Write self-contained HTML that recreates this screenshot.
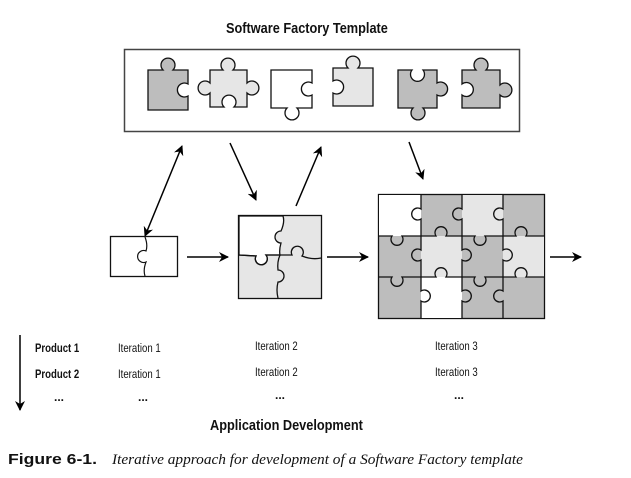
<!DOCTYPE html>
<html><head><style>
html,body{margin:0;padding:0;background:#fff;}
svg{display:block;}
text{font-family:"Liberation Sans",sans-serif;fill:#111;}
</style></head><body>
<svg width="631" height="478" viewBox="0 0 631 478" xmlns="http://www.w3.org/2000/svg">
<defs>
<marker id="ah" markerWidth="10" markerHeight="10" refX="9" refY="5" orient="auto" markerUnits="userSpaceOnUse"><path d="M0,0 L10,5 L0,10 L3,5 Z" fill="#000"/></marker>
<marker id="ahs" markerWidth="10" markerHeight="10" refX="1" refY="5" orient="auto" markerUnits="userSpaceOnUse"><path d="M10,0 L0,5 L10,10 L7,5 Z" fill="#000"/></marker>
</defs>
<text transform="translate(226,33) scale(0.85,1)" font-size="15" font-weight="bold">Software Factory Template</text>
<rect x="124.5" y="49.5" width="395" height="82" fill="#fff" stroke="#444" stroke-width="1.5"/>
<g stroke="#111" stroke-width="1.3">
<path fill="#bdbdbd" d="M148,70 L163,70 A7,7 0 1 1 173,70 L188,70 L188,84 A7,7 0 1 0 188,96 L188,110 L148,110 Z"/>
<path fill="#e6e6e6" d="M210,70 L223,70 A7,7 0 1 1 233,70 L247,70 L247,83 A7,7 0 1 1 247,93 L247,107 L234,107 A7,7 0 1 0 224,107 L210,107 L210,93 A7,7 0 1 1 210,83 Z"/>
<path fill="#fff" d="M271,70 L312,70 L312,83 A7,7 0 1 0 312,95 L312,108 L297,108 A7,7 0 1 1 287,108 L271,108 Z"/>
<path fill="#e6e6e6" d="M333,68 L348,68 A7,7 0 1 1 358,68 L373,68 L373,106 L333,106 L333,93 A7,7 0 1 0 333,81 Z"/>
<path fill="#bdbdbd" d="M398,70 L412,70 A7,7 0 1 0 423,70 L437,70 L437,83 A7,7 0 1 1 437,95 L437,108 L423,108 A7,7 0 1 1 413,108 L398,108 Z"/>
<path fill="#bdbdbd" d="M462,70 L476,70 A7,7 0 1 1 486,70 L500,70 L500,85 A7,7 0 1 1 500,95 L500,108 L462,108 L462,95 A7,7 0 1 0 462,84 Z"/>
</g>
<g stroke="#000" stroke-width="1.5" fill="none">
<line x1="145" y1="236" x2="182" y2="146" marker-start="url(#ahs)" marker-end="url(#ah)"/>
<line x1="230" y1="143" x2="256" y2="200" marker-end="url(#ah)"/>
<line x1="296" y1="206" x2="321" y2="147" marker-end="url(#ah)"/>
<line x1="409" y1="142" x2="423" y2="179" marker-end="url(#ah)"/>
<line x1="187" y1="257" x2="228" y2="257" marker-end="url(#ah)"/>
<line x1="327" y1="257" x2="368" y2="257" marker-end="url(#ah)"/>
<line x1="550" y1="257" x2="581" y2="257" marker-end="url(#ah)"/>
<line x1="20" y1="335" x2="20" y2="410" marker-end="url(#ah)"/>
</g>
<rect x="110.5" y="236.5" width="67" height="40" fill="#fff" stroke="#111" stroke-width="1.3"/>
<path d="M145,237 Q148,245 146,251 A6,6 0 1 0 146,262 Q143,270 145,276" fill="none" stroke="#111" stroke-width="1.2"/>
<g stroke="#111" stroke-width="1.3">
<rect x="238.5" y="215.5" width="83" height="83" fill="#e6e6e6"/>
<path fill="#fff" d="M239,216 L283,216 Q285,222 281,231 A6,6 0 1 0 281,243 Q279,250 280,255 L266,255 A6,6 0 1 1 256,256 L239,255 Z"/>
<path fill="none" d="M239,255 L256,256 A6,6 0 1 0 266,255 L280,255 L292,255 A6,6 0 1 1 302,256 Q312,260 321,258"/>
<path fill="none" d="M280,255 Q277,262 278,270 A6,6 0 1 1 278,282 Q276,290 278,298"/>
</g>
<g stroke="#111" stroke-width="1.3">
<rect x="378.5" y="194.5" width="166" height="124" fill="#bdbdbd"/>
<rect x="379" y="195" width="42" height="41" fill="#fff" stroke="none"/>
<rect x="462" y="195" width="41" height="41" fill="#e6e6e6" stroke="none"/>
<rect x="421" y="236" width="41" height="41" fill="#e6e6e6" stroke="none"/>
<rect x="503" y="236" width="41" height="41" fill="#e6e6e6" stroke="none"/>
<rect x="421" y="277" width="41" height="41" fill="#fff" stroke="none"/>
<g fill="none">
<path d="M379,236 L392,236 A6,6 0 1 0 402,236 L421,236 L436,236 A6,6 0 1 1 446,236 L462,236 L475,236 A6,6 0 1 0 485,236 L503,236 L516,236 A6,6 0 1 1 526,236 L544,236"/>
<path d="M379,277 L392,277 A6,6 0 1 0 402,277 L421,277 L436,277 A6,6 0 1 1 446,277 L462,277 L475,277 A6,6 0 1 0 485,277 L503,277 L516,277 A6,6 0 1 1 526,277 L544,277"/>
<path d="M421,195 L421,209 A6,6 0 1 0 421,219 L421,236 L421,250 A6,6 0 1 0 421,260 L421,277 L421,291 A6,6 0 1 1 421,301 L421,318"/>
<path d="M462,195 L462,209 A6,6 0 1 0 462,219 L462,236 L462,250 A6,6 0 1 1 462,260 L462,277 L462,291 A6,6 0 1 1 462,301 L462,318"/>
<path d="M503,195 L503,209 A6,6 0 1 0 503,219 L503,236 L503,250 A6,6 0 1 1 503,260 L503,277 L503,291 A6,6 0 1 0 503,301 L503,318"/>
</g>
</g>
<g font-size="12">
<text transform="translate(35,352) scale(0.8,1)" font-weight="bold">Product 1</text>
<text transform="translate(118,352) scale(0.8,1)">Iteration 1</text>
<text transform="translate(255,350) scale(0.8,1)">Iteration 2</text>
<text transform="translate(435,350) scale(0.8,1)">Iteration 3</text>
<text transform="translate(35,378) scale(0.8,1)" font-weight="bold">Product 2</text>
<text transform="translate(118,378) scale(0.8,1)">Iteration 1</text>
<text transform="translate(255,376) scale(0.8,1)">Iteration 2</text>
<text transform="translate(435,376) scale(0.8,1)">Iteration 3</text>
<text x="54" y="401" font-weight="bold">...</text>
<text x="138" y="401" font-weight="bold">...</text>
<text x="275" y="399" font-weight="bold">...</text>
<text x="454" y="399" font-weight="bold">...</text>
</g>
<text transform="translate(210,430) scale(0.85,1)" font-size="15" font-weight="bold">Application Development</text>
<text x="8" y="464" font-size="15" font-weight="bold" textLength="89" lengthAdjust="spacingAndGlyphs">Figure 6-1.</text>
<text x="112" y="464" font-size="15" font-style="italic" style="font-family:'Liberation Serif',serif" textLength="411" lengthAdjust="spacingAndGlyphs">Iterative approach for development of a Software Factory template</text>
</svg>
</body></html>
